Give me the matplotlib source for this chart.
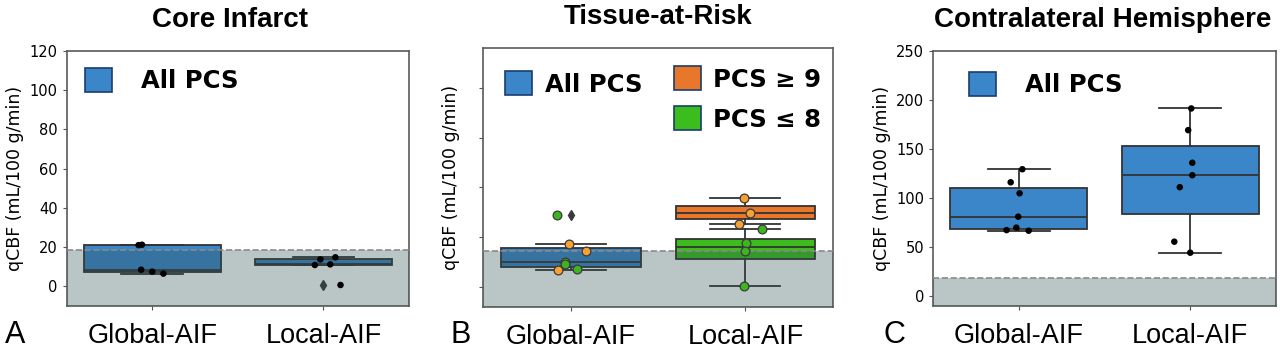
"qCBF box plots: core infarct, tissue-at-risk, contralateral hemisphere"
import matplotlib
matplotlib.use('Agg')
import matplotlib.pyplot as plt
from matplotlib.patches import Patch

groups = ['Global-AIF', 'Local-AIF']
threshold = 18.3

# A - core infarct (all PCS)
core_global = [21.0, 21.2, 8.5, 7.5, 6.5]
core_local = [13.7, 14.8, 10.9, 11.2, 0.7]
# B - tissue at risk, split by PCS
risk_global_hi = [21.4, 18.1, 8.4]
risk_global_lo = [36.2, 12.4, 11.6, 9.0]
risk_local_hi = [44.6, 37.0, 31.7]
risk_local_lo = [29.2, 22.1, 18.3, 0.65]
# C - contralateral hemisphere
contra_global = [129.3, 116.0, 104.8, 81.0, 69.8, 67.3, 66.7]
contra_local = [191.2, 169.1, 135.9, 123.2, 111.0, 55.5, 44.3]

# strip jitter (x offsets from box centre)
jit_core_global = [-0.08, -0.06, -0.065, 0.0, 0.065]
jit_core_local = [-0.018, 0.07, -0.05, 0.04, 0.10]
jit_risk_global_hi = [-0.007, 0.086, -0.074]
jit_risk_global_lo = [-0.076, -0.03, -0.03, 0.034]
jit_risk_local_hi = [-0.01, 0.025, -0.036]
jit_risk_local_lo = [0.097, 0.006, 0.0, -0.006]
jit_contra_global = [0.02, -0.048, 0.004, -0.004, -0.015, -0.072, 0.057]
jit_contra_local = [0.006, -0.012, 0.012, 0.012, -0.061, -0.093, 0.0]

blue = '#3a86c8'
orange = '#e8772c'
green = '#3cbd1e'
orange_pt = '#f5a233'
green_pt = '#3cb521'
edge = '#333333'

plt.rcParams['font.family'] = 'DejaVu Sans'
fig = plt.figure(figsize=(12.8, 3.5), dpi=100)


def boxes(ax, data, pos, color, capw=0.36):
    bp = ax.boxplot(data, positions=pos, widths=0.8, patch_artist=True, manage_ticks=False,
                    capwidths=[capw] * len(data), whis=1.5,
                    boxprops=dict(facecolor=color, edgecolor=edge, linewidth=1.3),
                    medianprops=dict(color=edge, linewidth=1.3),
                    whiskerprops=dict(color=edge, linewidth=1.3),
                    capprops=dict(color=edge, linewidth=1.3),
                    flierprops=dict(marker='d', markerfacecolor='#3a3a3a', markeredgecolor='#3a3a3a',
                                    markersize=5))
    for k in bp:
        for a in bp[k]:
            a.set_zorder(2)


def strip(ax, pos, vals, jit, color, size=22, ec='none'):
    xs = [pos + j for j in jit]
    ax.scatter(xs, vals, s=size, color=color, edgecolors=ec, linewidths=0.9, zorder=5)


def finish(ax, title, title_x, letter, ylim, yticks, show_ylabels=True):
    ax.set_xlim(-0.5, 1.5)
    ax.set_ylim(*ylim)
    ax.set_yticks(yticks)
    ax.set_xticks([0, 1])
    ax.set_xticklabels(groups, fontsize=19.5, family='Liberation Sans')
    ax.tick_params(axis='x', length=3, pad=9, color='#555555')
    ax.tick_params(axis='y', length=3, labelsize=10.5, color='#555555')
    if not show_ylabels:
        ax.set_yticklabels([])
    for s in ax.spines.values():
        s.set_color('#5a5a5a')
        s.set_linewidth(1.2)
    # grey band below threshold
    ax.axhspan(ylim[0], threshold, color='darkslategray', alpha=0.33, zorder=3, lw=0)
    ax.axhline(threshold, color='#8a8a8a', ls='--', lw=1.2, zorder=3.5)
    ax.set_title(title, fontsize=20, fontweight='bold', family='Liberation Sans', x=title_x, pad=17)


# Panel A
ax1 = fig.add_axes([0.0521, 0.1257, 0.2674, 0.7294])
boxes(ax1, [core_global, core_local], [0, 1], blue)
strip(ax1, 0, core_global, jit_core_global, 'black')
strip(ax1, 1, core_local, jit_core_local, 'black')
finish(ax1, 'Core Infarct', 0.477, 'A', (-10, 120), range(0, 121, 20))
ax1.set_ylabel('qCBF (mL/100 g/min)', fontsize=12.5, labelpad=4)
ax1.legend(handles=[Patch(facecolor=blue, edgecolor='#1a3d6e', lw=1.2, label='All PCS')],
           loc='upper left', bbox_to_anchor=(0.0535, 0.933), borderaxespad=0, borderpad=0,
           frameon=False, handlelength=1.1, handleheight=1.15, handletextpad=1.2,
           prop=dict(family='DejaVu Sans', weight='bold', size=17.5))

# Panel B
ax2 = fig.add_axes([0.3776, 0.1229, 0.2730, 0.74])
boxes(ax2, [risk_global_hi + risk_global_lo], [0], blue, capw=0.4)
boxes(ax2, [risk_local_hi], [1], orange, capw=0.4)
boxes(ax2, [risk_local_lo], [1], green, capw=0.4)
strip(ax2, 0, risk_global_hi, jit_risk_global_hi, orange_pt, size=40, ec='#3a3a3a')
strip(ax2, 0, risk_global_lo, jit_risk_global_lo, green_pt, size=40, ec='#3a3a3a')
strip(ax2, 1, risk_local_hi, jit_risk_local_hi, orange_pt, size=40, ec='#3a3a3a')
strip(ax2, 1, risk_local_lo, jit_risk_local_lo, green_pt, size=40, ec='#3a3a3a')
finish(ax2, 'Tissue-at-Risk', 0.5, 'B', (-10, 120), range(0, 101, 25), show_ylabels=False)
ax2.set_ylabel('qCBF (mL/100 g/min)', fontsize=12.5, labelpad=10)
leg = ax2.legend(handles=[Patch(facecolor=blue, edgecolor='#1a3d6e', lw=1.2, label='All PCS')],
                 loc='upper left', bbox_to_anchor=(0.062, 0.91), borderaxespad=0, borderpad=0,
                 frameon=False, handlelength=1.1, handleheight=1.15, handletextpad=0.55,
                 prop=dict(family='DejaVu Sans', weight='bold', size=17.5))
ax2.add_artist(leg)
ax2.legend(handles=[Patch(facecolor=orange, edgecolor='#1a3d6e', lw=1.2, label='PCS \u2265 9'),
                    Patch(facecolor=green, edgecolor='#1a3d6e', lw=1.2, label='PCS \u2264 8')],
           loc='upper left', bbox_to_anchor=(0.5467, 0.929), borderaxespad=0, borderpad=0,
           frameon=False, handlelength=1.1, handleheight=1.15, handletextpad=0.5, labelspacing=0.6,
           prop=dict(family='DejaVu Sans', weight='bold', size=17.5))

# Panel C
ax3 = fig.add_axes([0.7291, 0.1257, 0.2677, 0.7294])
boxes(ax3, [contra_global, contra_local], [0, 1], blue)
strip(ax3, 0, contra_global, jit_contra_global, 'black')
strip(ax3, 1, contra_local, jit_contra_local, 'black')
finish(ax3, 'Contralateral Hemisphere', 0.495, 'C', (-10, 250), range(0, 251, 50))
ax3.set_ylabel('qCBF (mL/100 g/min)', fontsize=12.5, labelpad=4)
ax3.legend(handles=[Patch(facecolor=blue, edgecolor='#1a3d6e', lw=1.2, label='All PCS')],
           loc='upper left', bbox_to_anchor=(0.104, 0.918), borderaxespad=0, borderpad=0,
           frameon=False, handlelength=1.1, handleheight=1.15, handletextpad=1.2,
           prop=dict(family='DejaVu Sans', weight='bold', size=17.5))

# panel letters
for x, letter in [(0.004, 'A'), (0.352, 'B'), (0.690, 'C')]:
    fig.text(x, 0.02, letter, fontsize=22, family='Liberation Sans')

plt.savefig('out.png', dpi=100)
